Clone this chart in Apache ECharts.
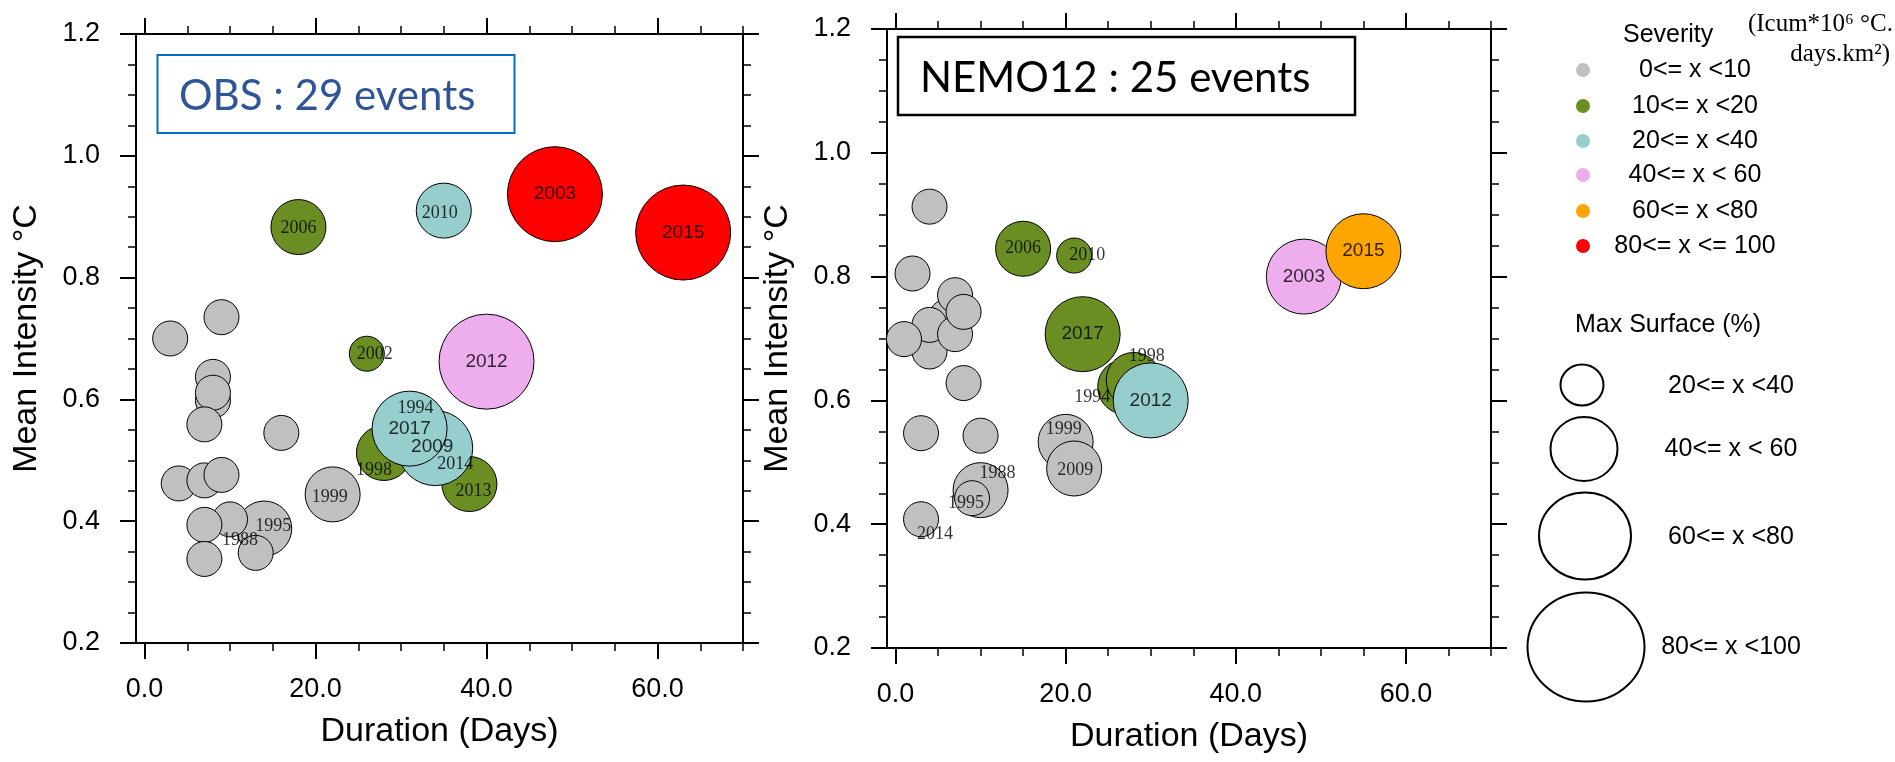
<!DOCTYPE html>
<html>
<head>
<meta charset="utf-8">
<title>Heatwave events: OBS vs NEMO12</title>
<script src="https://cdn.jsdelivr.net/npm/echarts@6/dist/echarts.min.js"></script>
<style>
  html, body { margin: 0; padding: 0; background: #fff; }
  #chart { width: 1895px; height: 762px; }
</style>
</head>
<body>
<div id="chart"></div>
<script>
// ---- values (draw order matters: later points sit on top) ----
// severity / surface are class indices into the legend label lists below

const obsYear = ['', '', '', '', '', '', '', '', '', '', '', '1995', '1988', '', '', '', '1999',
  '2006', '2002', '1998', '2013', '1994', '2014', '2010', '2009', '2017', '2012', '2003', '2015'];
const obsDuration = [14, 9, 3, 8, 8, 8, 7, 16, 4, 7, 9, 14, 10, 7, 13, 7, 22,
  18, 26, 28, 38, 31, 34, 35, 34, 31, 40, 48, 63];
const obsIntensity = [0.39, 0.735, 0.70, 0.637, 0.598, 0.611, 0.559, 0.545, 0.462, 0.467, 0.476, 0.388, 0.403, 0.394, 0.348, 0.338, 0.444,
  0.883, 0.675, 0.512, 0.461, 0.552, 0.52, 0.910, 0.52, 0.552, 0.662, 0.937, 0.874];
const obsSeverity = [0, 0, 0, 0, 0, 0, 0, 0, 0, 0, 0, 0, 0, 0, 0, 0, 0,
  1, 1, 1, 1, 2, 2, 2, 2, 2, 3, 5, 5];
const obsSurface = [0, 0, 0, 0, 0, 0, 0, 0, 0, 0, 0, 1, 0, 0, 0, 0, 1,
  1, 0, 1, 1, 0, 0, 1, 2, 2, 3, 3, 3];

const nemoYear = ['', '', '', '', '', '', '', '', '', '', '', '', '1988', '1995', '2014', '1999', '2009',
  '2006', '2010', '2017', '1994', '1998', '2012', '2003', '2015'];
const nemoDuration = [6, 4, 2, 7, 4, 4, 7, 8, 1, 8, 3, 10, 10, 9, 3, 20, 21,
  15, 21, 22, 27, 28, 30, 48, 55];
const nemoIntensity = [0.735, 0.913, 0.805, 0.770, 0.679, 0.722, 0.707, 0.743, 0.699, 0.628, 0.547, 0.543, 0.455, 0.442, 0.408, 0.533, 0.49,
  0.845, 0.834, 0.707, 0.622, 0.633, 0.600, 0.80, 0.841];
const nemoSeverity = [0, 0, 0, 0, 0, 0, 0, 0, 0, 0, 0, 0, 0, 0, 0, 0, 0,
  1, 1, 1, 1, 1, 2, 3, 4];
const nemoSurface = [0, 0, 0, 0, 0, 0, 0, 0, 0, 0, 0, 0, 1, 0, 0, 1, 1,
  1, 0, 2, 1, 1, 2, 2, 2];

const severityLabels = ['0<= x <10', '10<= x <20', '20<= x <40', '40<= x < 60', '60<= x <80', '80<= x <= 100'];
const surfaceLabels = ['20<= x <40', '40<= x < 60', '60<= x <80', '80<= x <100'];
const xMajorTicks = [0, 20, 40, 60];
const xMinorTicks = [5, 10, 15, 25, 30, 35, 45, 50, 55, 65, 70];

// ---- styles ----
const SANS = '"Liberation Sans", Arial, Helvetica, sans-serif';
const SERIF = '"Liberation Serif", "Times New Roman", serif';
const severityColors = ['#c0c0c0', '#6b8e23', '#96cdcd', '#eeaeee', '#ffa500', '#ff0000'];
const bubbleSize = [35, 55, 75, 95];

// year label placement: [dx, dy, font]
const obsLabelStyle = {
  '2006': [0, 1, 'serif'], '2010': [-4, 3, 'serif'], '2003': [0, 0, 'sans'], '2015': [0, 0, 'sans'],
  '2002': [8, 1, 'serif'], '2012': [0, 0, 'sans'], '2017': [0, 0, 'sans'], '1994': [6, -20, 'serif'],
  '2009': [-3, -1, 'sans'], '2014': [20, 16, 'serif'], '1998': [-10, 17, 'serif'], '2013': [4, 7, 'serif'],
  '1999': [-3, 3, 'serif'], '1995': [9, -2, 'serif'], '1988': [10, 21, 'serif']
};
const nemoLabelStyle = {
  '2006': [0, 0, 'serif'], '2010': [13, 0, 'serif'], '2017': [0, 0, 'sans'], '1998': [13, -24, 'serif'],
  '1994': [-33, 10, 'serif'], '2012': [0, 0, 'sans'], '2003': [0, 0, 'sans'], '2015': [0, 0, 'sans'],
  '1999': [-2, -13, 'serif'], '2009': [1, 2, 'serif'], '1988': [17, -17, 'serif'], '1995': [-6, 5, 'serif'],
  '2014': [14, 15, 'serif']
};

function makeXAxes(gridIndex) {
  const base = { gridIndex, type: 'value', min: -1, max: 70, splitLine: { show: false } };
  const line = { show: true, onZero: false, lineStyle: { color: '#000', width: 2 } };
  const major = { show: true, customValues: xMajorTicks, length: 16, lineStyle: { color: '#000', width: 2 } };
  const minor = { show: true, customValues: xMinorTicks, length: 8, lineStyle: { color: '#000', width: 1.5 } };
  return [
    {
      ...base, position: 'bottom', axisLine: line, axisTick: major,
      axisLabel: {
        show: true, customValues: xMajorTicks, formatter: v => v.toFixed(1),
        margin: 33, fontSize: 27, color: '#000', fontFamily: SANS
      },
      name: 'Duration (Days)', nameLocation: 'middle', nameGap: 72,
      nameTextStyle: { fontSize: 34, color: '#000', fontFamily: SANS }
    },
    { ...base, position: 'bottom', axisLine: { show: false }, axisTick: minor, axisLabel: { show: false } },
    { ...base, position: 'top', axisLine: line, axisTick: major, axisLabel: { show: false } },
    { ...base, position: 'top', axisLine: { show: false }, axisTick: minor, axisLabel: { show: false } }
  ];
}

function makeYAxes(gridIndex) {
  const base = {
    gridIndex, type: 'value', min: 0.2, max: 1.2, interval: 0.2, splitLine: { show: false },
    axisLine: { show: true, onZero: false, lineStyle: { color: '#000', width: 2 } },
    axisTick: { show: true, length: 16, lineStyle: { color: '#000', width: 2 } },
    minorTick: { show: true, splitNumber: 4, length: 8, lineStyle: { color: '#000', width: 1.5 } }
  };
  return [
    {
      ...base, position: 'left',
      axisLabel: {
        show: true, formatter: v => v.toFixed(1), margin: 36, fontSize: 27, color: '#000',
        fontFamily: SANS, showMinLabel: true, showMaxLabel: true
      },
      name: 'Mean Intensity °C', nameLocation: 'middle', nameGap: 92,
      nameTextStyle: { fontSize: 34, color: '#000', fontFamily: SANS }
    },
    { ...base, position: 'right', axisLabel: { show: false } }
  ];
}

function bubbleSeries(axisX, axisY, dur, inten, sev, surf) {
  return {
    type: 'scatter', xAxisIndex: axisX, yAxisIndex: axisY, z: 2, silent: true,
    emphasis: { disabled: true },
    data: dur.map((d, i) => [d, inten[i], sev[i], surf[i]]),
    symbolSize: v => bubbleSize[v[3]],
    itemStyle: {
      color: p => severityColors[p.value[2]],
      borderColor: '#000', borderWidth: 1, opacity: 1
    }
  };
}

function labelSeries(axisX, axisY, year, dur, inten, styleMap) {
  const data = [];
  year.forEach((y, i) => {
    if (!y) return;
    const s = styleMap[y];
    data.push({
      name: y, value: [dur[i], inten[i]],
      label: {
        offset: [s[0], s[1]],
        fontFamily: s[2] === 'serif' ? SERIF : SANS,
        fontSize: s[2] === 'serif' ? 18 : 19
      }
    });
  });
  return {
    type: 'scatter', xAxisIndex: axisX, yAxisIndex: axisY, z: 5, silent: true,
    emphasis: { disabled: true },
    data, symbolSize: 1,
    itemStyle: { color: 'rgba(0,0,0,0)', borderWidth: 0 },
    label: { show: true, position: 'inside', formatter: '{b}', color: '#000' }
  };
}

// ---- legend / annotation layout ----
const sevLegendY = [70, 106, 141, 175, 211, 246];
const surfLegend = [
  { cx: 1582, cy: 385, rx: 21.5, ry: 20.5, ty: 386 },
  { cx: 1584, cy: 449, rx: 33.5, ry: 32, ty: 449 },
  { cx: 1585, cy: 536, rx: 46, ry: 43.5, ty: 537 },
  { cx: 1586, cy: 647, rx: 58.5, ry: 54.5, ty: 647 }
];

const graphics = [
  {
    type: 'rect', shape: { x: 157.5, y: 55, width: 357, height: 78 }, z: 10,
    style: { fill: '#fff', stroke: '#0070c0', lineWidth: 2 }
  },
  {
    type: 'text', x: 179, y: 96, z: 11,
    style: { text: 'OBS : 29 events', fill: '#2f5597', fontSize: 42, fontFamily: 'Lato', verticalAlign: 'middle' }
  },
  {
    type: 'rect', shape: { x: 898, y: 37, width: 457, height: 78 }, z: 10,
    style: { fill: '#fff', stroke: '#000', lineWidth: 2.5 }
  },
  {
    type: 'text', x: 920, y: 78, z: 11,
    style: { text: 'NEMO12 : 25 events', fill: '#000', fontSize: 42, fontFamily: 'Lato', verticalAlign: 'middle' }
  },
  {
    type: 'text', x: 1623, y: 35,
    style: { text: 'Severity', fill: '#000', fontSize: 25, fontFamily: SANS, verticalAlign: 'middle' }
  },
  {
    type: 'text', x: 1893, y: 24,
    style: { text: '(Icum*10⁶ °C.', fill: '#000', fontSize: 25, fontFamily: SERIF, align: 'right', verticalAlign: 'middle' }
  },
  {
    type: 'text', x: 1890, y: 54,
    style: { text: 'days.km²)', fill: '#000', fontSize: 25, fontFamily: SERIF, align: 'right', verticalAlign: 'middle' }
  },
  {
    type: 'text', x: 1575, y: 325,
    style: { text: 'Max Surface (%)', fill: '#000', fontSize: 25, fontFamily: SANS, verticalAlign: 'middle' }
  }
];

severityLabels.forEach((lab, i) => {
  graphics.push({
    type: 'circle', shape: { cx: 1583, cy: sevLegendY[i], r: 7 },
    style: { fill: severityColors[i] }
  });
  graphics.push({
    type: 'text', x: 1695, y: sevLegendY[i],
    style: { text: lab, fill: '#000', fontSize: 25, fontFamily: SANS, align: 'center', verticalAlign: 'middle' }
  });
});

surfaceLabels.forEach((lab, i) => {
  const c = surfLegend[i];
  graphics.push({
    type: 'ellipse', shape: { cx: c.cx, cy: c.cy, rx: c.rx, ry: c.ry },
    style: { fill: 'none', stroke: '#000', lineWidth: 2 }
  });
  graphics.push({
    type: 'text', x: 1731, y: c.ty,
    style: { text: lab, fill: '#000', fontSize: 25, fontFamily: SANS, align: 'center', verticalAlign: 'middle' }
  });
});

const chart = echarts.init(document.getElementById('chart'));

chart.setOption({
  backgroundColor: '#fff',
  animation: false,
  grid: [
    { left: 136, top: 34, width: 607, height: 609 },
    { left: 887, top: 29, width: 604, height: 619 }
  ],
  xAxis: [...makeXAxes(0), ...makeXAxes(1)],
  yAxis: [...makeYAxes(0), ...makeYAxes(1)],
  series: [
    bubbleSeries(0, 0, obsDuration, obsIntensity, obsSeverity, obsSurface),
    labelSeries(0, 0, obsYear, obsDuration, obsIntensity, obsLabelStyle),
    bubbleSeries(4, 2, nemoDuration, nemoIntensity, nemoSeverity, nemoSurface),
    labelSeries(4, 2, nemoYear, nemoDuration, nemoIntensity, nemoLabelStyle)
  ],
  graphic: { elements: graphics }
});
</script>
</body>
</html>
